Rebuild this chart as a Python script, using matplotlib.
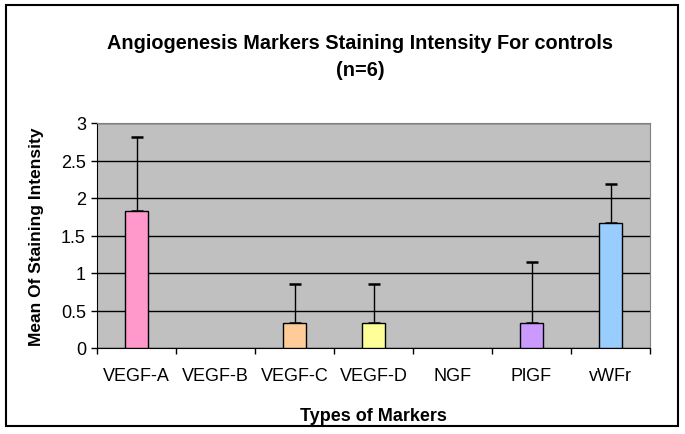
import matplotlib.pyplot as plt
from matplotlib.patches import Rectangle

plt.rcParams["font.family"] = ["Liberation Sans", "DejaVu Sans"]

markers = ["VEGF-A", "VEGF-B", "VEGF-C", "VEGF-D", "NGF", "PlGF", "vWFr"]
means = [1.83, 0, 0.33, 0.33, 0, 0.33, 1.67]
errors = [0.98, 0, 0.52, 0.52, 0, 0.82, 0.52]
colors = ["#FF99CC", "#FF99CC", "#FFCC99", "#FFFF99", "#FFFF99", "#CC99FF", "#99CCFF"]

fig = plt.figure(figsize=(6.85, 4.35), dpi=100)
ax = fig.add_axes([97 / 685, 86 / 435, 553 / 685, 225 / 435])
ax.set_facecolor("#C0C0C0")

# bars with zero height are not drawn in the original
shown = [i for i, m in enumerate(means) if m > 0]
ax.bar(shown, [means[i] for i in shown], width=0.29,
       color=[colors[i] for i in shown], edgecolor="black", linewidth=1, zorder=3)
ax.errorbar(shown, [means[i] for i in shown],
            yerr=[[0] * len(shown), [errors[i] for i in shown]], fmt="none",
            ecolor="black", elinewidth=1, capsize=4, capthick=1.8, zorder=2)

ax.set_ylim(0, 3)
ax.set_xlim(-0.5, len(markers) - 0.5)
ax.set_yticks([0, 0.5, 1, 1.5, 2, 2.5, 3])
ax.set_yticklabels(["0", "0.5", "1", "1.5", "2", "2.5", "3"])
ax.yaxis.grid(True, color="black", linewidth=1)
ax.set_axisbelow(True)

ax.set_xticks(range(len(markers)))
ax.set_xticklabels(markers)
ax.set_xticks([i - 0.5 for i in range(len(markers) + 1)], minor=True)
ax.tick_params(axis="x", which="major", length=0, pad=14, labelsize=13)
ax.tick_params(axis="x", which="minor", length=4, width=1, direction="out")
ax.tick_params(axis="y", length=4, width=1, direction="out", labelsize=13, pad=4)

for side in ["top", "right"]:
    ax.spines[side].set_color("#808080")
for side in ["left", "bottom"]:
    ax.spines[side].set_color("black")

ax.set_xlabel("Types of Markers", fontsize=13, fontweight="bold", labelpad=16)
ax.set_ylabel("Mean Of Staining Intensity", fontsize=12.5, fontweight="bold", labelpad=12)

fig.text(360 / 685, 1 - 43.5 / 435, "Angiogenesis Markers Staining Intensity For controls",
         ha="center", va="center", fontsize=14.3, fontweight="bold")
fig.text(360 / 685, 1 - 70.5 / 435, "(n=6)", ha="center", va="center",
         fontsize=14.3, fontweight="bold")

fig.patches.append(Rectangle((6 / 685, 8 / 435), 672 / 685, 421.5 / 435,
                             transform=fig.transFigure, fill=False,
                             edgecolor="black", linewidth=1.5))

fig.savefig("out.png", dpi=100)
